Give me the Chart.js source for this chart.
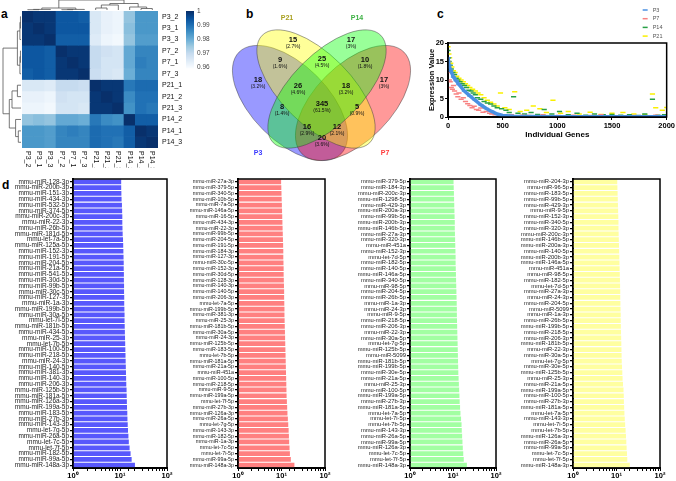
<!DOCTYPE html>
<html>
<head>
<meta charset="utf-8">
<script src="https://cdn.jsdelivr.net/npm/chart.js@4.4.0/dist/chart.umd.min.js"></script>
<style>
  body { margin: 0; background: #fff; width: 676px; height: 481px; position: relative; overflow: hidden; font-family: "Liberation Sans", Arial, sans-serif; }
  canvas { position: absolute; }
  .tag { position: absolute; font-weight: bold; font-size: 12px; line-height: 12px; }
</style>
</head>
<body>
<div class="tag" style="left:1px;top:8px">a</div>
<div class="tag" style="left:246px;top:8px">b</div>
<div class="tag" style="left:437px;top:8px">c</div>
<div class="tag" style="left:2px;top:179px">d</div>

<canvas id="heat" width="225" height="168" style="left:0;top:0"></canvas>
<canvas id="venn" width="215" height="172" style="left:225px;top:0"></canvas>
<canvas id="scat" width="251" height="140" style="left:425px;top:0"></canvas>
<canvas id="barBlue" width="179" height="309" style="left:0;top:172px"></canvas>
<canvas id="barRed" width="172" height="309" style="left:165px;top:172px"></canvas>
<canvas id="barGreen" width="171" height="309" style="left:337px;top:172px"></canvas>
<canvas id="barYellow" width="172" height="309" style="left:500px;top:172px"></canvas>

<script>
Chart.defaults.font.family = '"Liberation Sans", Arial, sans-serif';
Chart.defaults.color = '#000';

// ---- panel a: sample correlation heatmap
const hmLabels = ['P3_2', 'P3_1', 'P3_3', 'P7_2', 'P7_1', 'P7_3', 'P21_1', 'P21_2', 'P21_3', 'P14_2', 'P14_1', 'P14_3'];
const hmCorr = [
  [1.000, 0.999, 0.999, 0.994, 0.994, 0.993, 0.966, 0.963, 0.962, 0.976, 0.984, 0.984],
  [0.999, 1.000, 0.999, 0.994, 0.994, 0.994, 0.966, 0.963, 0.962, 0.977, 0.984, 0.984],
  [0.999, 0.999, 1.000, 0.993, 0.993, 0.993, 0.965, 0.962, 0.961, 0.976, 0.983, 0.983],
  [0.994, 0.994, 0.993, 1.000, 0.999, 0.999, 0.970, 0.968, 0.967, 0.981, 0.987, 0.987],
  [0.994, 0.994, 0.993, 0.999, 1.000, 0.999, 0.970, 0.967, 0.967, 0.981, 0.988, 0.987],
  [0.993, 0.994, 0.993, 0.999, 0.999, 1.000, 0.969, 0.967, 0.966, 0.980, 0.987, 0.987],
  [0.966, 0.966, 0.965, 0.970, 0.970, 0.969, 1.000, 0.999, 0.999, 0.989, 0.991, 0.991],
  [0.963, 0.963, 0.962, 0.968, 0.967, 0.967, 0.999, 1.000, 0.999, 0.986, 0.990, 0.990],
  [0.962, 0.962, 0.961, 0.967, 0.967, 0.966, 0.999, 0.999, 1.000, 0.985, 0.990, 0.989],
  [0.976, 0.977, 0.976, 0.981, 0.981, 0.980, 0.989, 0.986, 0.985, 1.000, 0.993, 0.993],
  [0.984, 0.984, 0.983, 0.987, 0.988, 0.987, 0.991, 0.990, 0.990, 0.993, 1.000, 0.999],
  [0.984, 0.984, 0.983, 0.987, 0.987, 0.987, 0.991, 0.990, 0.989, 0.993, 0.999, 1.000]
];
// [left node, right node, height]; merge k becomes node 12 + k
const hmMerges = [[0, 1, 0.03], [12, 2, 0.06], [3, 4, 0.03], [14, 5, 0.06], [13, 15, 0.2],
  [6, 7, 0.2], [17, 8, 0.5], [10, 11, 0.15], [9, 19, 0.3], [18, 20, 0.65], [16, 21, 1.0]];
const hmScaleTicks = [1, 0.99, 0.98, 0.97, 0.96];

// ---- panel b: Venn counts
const vennSets = ['P3', 'P7', 'P21', 'P14'];
const vennCounts = [15, 17, 18, 17, 25, 9, 10, 26, 18, 8, 5, 345, 16, 12, 20];
const vennPercents = ['2.7%', '3%', '3.2%', '3%', '4.5%', '1.6%', '1.8%', '4.6%', '3.2%', '1.4%', '0.9%', '61.5%', '2.9%', '2.1%', '3.6%'];

// ---- panel c: expression value per ranked gene
const p3X = [0, 10, 25, 50, 75, 100, 150, 200, 250, 300, 350, 400, 450, 500, 600, 800, 1000, 1200, 1400, 1600, 1800, 2000];
const p3Y = [16, 14, 12.5, 10.8, 9.8, 8.8, 7.0, 5.7, 4.5, 3.3, 2.3, 1.5, 0.8, 0.4, 0.2, 0.12, 0.1, 0.08, 0.07, 0.06, 0.05, 0.05];
const p7X = [0, 5, 12, 20, 30, 40, 50, 60, 75, 90, 100, 120, 140, 160, 180, 200, 220, 240, 260, 280, 300, 320, 350, 380, 400, 430, 460, 500, 540, 580, 620, 680, 740, 800, 870, 940, 1010, 1080, 1150, 1230, 1310, 1400, 1500, 1600, 1700, 1800, 1900, 2000];
const p7Y = [15, 12, 10, 9.5, 8, 7.5, 8.5, 7, 6.2, 5.5, 6.5, 4.8, 5.2, 4.2, 3.6, 3.1, 2.5, 2.9, 2, 1.8, 2.4, 1.3, 1.5, 1, 0.8, 0.6, 0.9, 0.5, 0.4, 0.6, 0.3, 0.5, 0.4, 0.3, 0.6, 0.3, 0.4, 0.2, 0.5, 0.3, 0.4, 0.6, 0.3, 0.2, 0.4, 0.3, 0.5, 0.3];
const p14X = [0, 5, 10, 20, 30, 45, 60, 75, 90, 110, 130, 150, 170, 190, 210, 230, 250, 270, 300, 330, 360, 390, 420, 450, 490, 530, 560, 600, 640, 700, 760, 820, 880, 950, 1020, 1100, 1180, 1260, 1340, 1420, 1500, 1580, 1660, 1740, 1800, 1870, 1920, 1980];
const p14Y = [18, 16, 15, 14, 13, 12, 11.5, 10.5, 10, 9.5, 9, 8.5, 8, 7.2, 7, 6.5, 6, 5.2, 4.8, 4.2, 3.8, 3.5, 3, 2.5, 2.2, 1.8, 1.2, 5.5, 1, 0.8, 1.2, 0.7, 2, 0.8, 1.5, 0.6, 1, 0.5, 0.8, 0.6, 0.7, 0.5, 0.6, 0.4, 0.8, 4.8, 0.5, 0.6];
const p21X = [0, 8, 15, 25, 35, 50, 65, 80, 100, 120, 140, 160, 180, 200, 225, 250, 275, 300, 330, 360, 390, 420, 450, 480, 520, 560, 610, 660, 720, 780, 840, 900, 960, 1030, 1100, 1200, 1300, 1400, 1500, 1600, 1700, 1800, 1870, 1900, 1960, 2000];
const p21Y = [19, 17, 16, 14.5, 13.5, 12.5, 12, 11, 10.5, 10, 9.5, 9, 8.5, 8, 7.5, 7, 6.5, 6, 5.2, 4.5, 4, 3.5, 3, 6.5, 2.5, 2, 6.8, 1.5, 1.8, 3, 2.2, 1.2, 4.5, 1, 1.5, 0.8, 1.3, 0.7, 1, 1.2, 0.8, 0.6, 6.2, 2.5, 1.8, 2.6];

// ---- panel d: top miRNAs per stage
const p3Labels = ['mmu-miR-128-3p', 'mmu-miR-200b-3p', 'mmu-miR-151-3p', 'mmu-miR-434-3p', 'mmu-miR-532-5p', 'mmu-miR-374-5p', 'mmu-miR-200c-3p', 'mmu-miR-22-3p', 'mmu-miR-26b-5p', 'mmu-miR-181d-5p',
  'mmu-let-7a-5p', 'mmu-miR-125a-5p', 'mmu-miR-152-3p', 'mmu-miR-191-5p', 'mmu-miR-204-5p', 'mmu-miR-21a-5p', 'mmu-miR-541-5p', 'mmu-miR-30d-5p', 'mmu-miR-99b-5p', 'mmu-miR-30c-5p',
  'mmu-miR-127-3p', 'mmu-miR-1a-3p', 'mmu-miR-199b-5p', 'mmu-miR-30a-5p', 'mmu-let-7i-5p', 'mmu-miR-181b-5p', 'mmu-miR-434-5p', 'mmu-miR-25-3p', 'mmu-let-7b-5p', 'mmu-miR-100-5p',
  'mmu-miR-218-5p', 'mmu-miR-24-3p', 'mmu-miR-140-5p', 'mmu-miR-381-3p', 'mmu-miR-140-3p', 'mmu-miR-206-3p', 'mmu-miR-125b-5p', 'mmu-miR-181a-5p', 'mmu-miR-126a-3p', 'mmu-miR-199a-5p',
  'mmu-miR-183-5p', 'mmu-miR-27b-3p', 'mmu-miR-143-3p', 'mmu-let-7g-5p', 'mmu-miR-26a-5p', 'mmu-let-7c-5p', 'mmu-let-7f-5p', 'mmu-miR-182-5p', 'mmu-miR-99a-5p', 'mmu-miR-148a-3p'];
const p3Values = [10.6, 10.6, 10.7, 10.8, 11.0, 11.1, 11.2, 11.2, 11.3, 11.4,
  11.6, 11.7, 11.8, 11.9, 12.0, 12.0, 12.1, 12.1, 12.2, 12.2,
  12.3, 12.3, 12.4, 12.5, 12.5, 12.6, 12.7, 12.8, 12.9, 13.0,
  13.1, 13.2, 13.3, 13.4, 13.5, 13.6, 13.8, 13.9, 14.0, 14.1,
  14.3, 14.4, 14.6, 14.8, 15.1, 15.4, 16.0, 16.8, 17.7, 20.8];
const p7Labels = ['mmu-miR-27a-3p', 'mmu-miR-379-5p', 'mmu-miR-340-5p', 'mmu-miR-10b-5p', 'mmu-miR-7a-5p', 'mmu-miR-146a-5p', 'mmu-miR-16-5p', 'mmu-miR-434-3p', 'mmu-miR-22-3p', 'mmu-miR-99b-5p',
  'mmu-miR-204-5p', 'mmu-miR-191-5p', 'mmu-miR-184-3p', 'mmu-miR-127-3p', 'mmu-miR-30c-5p', 'mmu-miR-152-3p', 'mmu-miR-30d-5p', 'mmu-miR-128-3p', 'mmu-miR-140-3p', 'mmu-miR-140-5p',
  'mmu-miR-206-3p', 'mmu-let-7a-5p', 'mmu-miR-199b-5p', 'mmu-miR-381-3p', 'mmu-miR-25-3p', 'mmu-miR-181b-5p', 'mmu-miR-30a-5p', 'mmu-miR-24-3p', 'mmu-miR-125b-5p', 'mmu-miR-183-5p',
  'mmu-let-7b-5p', 'mmu-miR-181a-5p', 'mmu-miR-21a-5p', 'mmu-miR-451a', 'mmu-miR-100-5p', 'mmu-miR-218-5p', 'mmu-miR-9-5p', 'mmu-miR-199a-5p', 'mmu-let-7f-5p', 'mmu-miR-27b-3p',
  'mmu-miR-126a-3p', 'mmu-miR-26a-5p', 'mmu-let-7g-5p', 'mmu-miR-143-3p', 'mmu-miR-182-5p', 'mmu-miR-1a-3p', 'mmu-let-7c-5p', 'mmu-let-7i-5p', 'mmu-miR-99a-5p', 'mmu-miR-148a-3p'];
const p7Values = [9.8, 9.9, 10.0, 10.1, 10.2, 10.3, 10.4, 10.5, 10.6, 10.7,
  10.8, 10.9, 11.0, 11.0, 11.1, 11.2, 11.2, 11.3, 11.4, 11.5,
  11.5, 11.6, 11.7, 11.7, 11.8, 11.9, 12.0, 12.1, 12.2, 12.3,
  12.4, 12.5, 12.6, 12.7, 12.8, 12.9, 13.0, 13.1, 13.3, 13.5,
  13.7, 14.0, 14.3, 14.6, 14.8, 15.0, 15.3, 15.6, 16.4, 19.8];
const p14Labels = ['mmu-miR-379-5p', 'mmu-miR-184-3p', 'mmu-miR-200c-3p', 'mmu-miR-1298-5p', 'mmu-miR-429-3p', 'mmu-miR-200a-3p', 'mmu-miR-99b-5p', 'mmu-miR-200b-3p', 'mmu-miR-146b-5p', 'mmu-miR-27a-3p',
  'mmu-miR-320-3p', 'mmu-miR-451a', 'mmu-miR-152-3p', 'mmu-let-7d-5p', 'mmu-miR-182-5p', 'mmu-miR-140-5p', 'mmu-miR-146a-5p', 'mmu-miR-340-5p', 'mmu-miR-98-5p', 'mmu-miR-204-5p',
  'mmu-miR-26b-5p', 'mmu-miR-1a-3p', 'mmu-miR-24-3p', 'mmu-miR-9-5p', 'mmu-miR-218-5p', 'mmu-miR-206-3p', 'mmu-miR-22-3p', 'mmu-miR-30a-5p', 'mmu-let-7g-5p', 'mmu-miR-125b-5p',
  'mmu-miR-5099', 'mmu-miR-181b-5p', 'mmu-miR-199b-5p', 'mmu-miR-30e-5p', 'mmu-miR-21a-5p', 'mmu-miR-25-3p', 'mmu-miR-100-5p', 'mmu-miR-199a-5p', 'mmu-miR-27b-3p', 'mmu-miR-181a-5p',
  'mmu-let-7a-5p', 'mmu-let-7i-5p', 'mmu-let-7b-5p', 'mmu-miR-143-3p', 'mmu-miR-26a-5p', 'mmu-miR-99a-5p', 'mmu-miR-126a-3p', 'mmu-let-7c-5p', 'mmu-let-7f-5p', 'mmu-miR-148a-3p'];
const p14Values = [10.3, 10.4, 10.5, 10.6, 10.7, 10.8, 10.9, 11.0, 11.0, 11.1,
  11.2, 11.3, 11.4, 11.5, 11.5, 11.6, 11.7, 11.8, 11.9, 12.0,
  12.1, 12.2, 12.3, 12.3, 12.4, 12.5, 12.6, 12.7, 12.8, 12.9,
  13.0, 13.1, 13.2, 13.3, 13.5, 13.7, 13.9, 14.1, 14.3, 14.6,
  14.9, 15.4, 15.8, 16.0, 16.3, 16.6, 16.9, 17.3, 17.8, 21.0];
const p21Labels = ['mmu-miR-204-3p', 'mmu-miR-96-5p', 'mmu-miR-183-5p', 'mmu-miR-99b-5p', 'mmu-miR-429-3p', 'mmu-miR-9-5p', 'mmu-miR-152-3p', 'mmu-miR-340-5p', 'mmu-miR-320-3p', 'mmu-miR-200c-3p',
  'mmu-miR-146b-5p', 'mmu-miR-200a-3p', 'mmu-miR-140-5p', 'mmu-miR-200b-3p', 'mmu-miR-146a-5p', 'mmu-miR-451a', 'mmu-miR-98-5p', 'mmu-miR-182-5p', 'mmu-let-7d-5p', 'mmu-miR-27a-3p',
  'mmu-miR-24-3p', 'mmu-miR-204-5p', 'mmu-miR-5099', 'mmu-miR-1a-3p', 'mmu-miR-26b-5p', 'mmu-miR-199b-5p', 'mmu-miR-218-5p', 'mmu-miR-206-3p', 'mmu-miR-181b-5p', 'mmu-miR-22-3p',
  'mmu-miR-30a-5p', 'mmu-let-7g-5p', 'mmu-miR-30e-5p', 'mmu-miR-125b-5p', 'mmu-miR-25-3p', 'mmu-miR-21a-5p', 'mmu-miR-199a-5p', 'mmu-miR-100-5p', 'mmu-miR-27b-3p', 'mmu-miR-181a-5p',
  'mmu-let-7a-5p', 'mmu-miR-143-3p', 'mmu-let-7i-5p', 'mmu-let-7b-5p', 'mmu-miR-126a-3p', 'mmu-miR-26a-5p', 'mmu-miR-99a-5p', 'mmu-let-7c-5p', 'mmu-let-7f-5p', 'mmu-miR-148a-3p'];
const p21Values = [10.4, 10.5, 10.6, 10.7, 10.8, 10.9, 11.0, 11.1, 11.1, 11.2,
  11.3, 11.4, 11.5, 11.6, 11.7, 11.8, 11.9, 12.0, 12.1, 12.2,
  12.2, 12.3, 12.4, 12.5, 12.5, 12.6, 12.7, 12.8, 12.9, 13.0,
  13.1, 13.2, 13.4, 13.6, 13.8, 14.1, 14.5, 14.7, 14.8, 15.0,
  15.2, 15.5, 15.8, 16.2, 16.5, 16.8, 17.1, 17.4, 17.7, 20.2];

// ---------- helpers
const blues = ['#f7fbff', '#deebf7', '#c6dbef', '#9ecae1', '#6baed6', '#4292c6', '#2171b5', '#08519c', '#08306b'];
const hexRgb = h => [1, 3, 5].map(i => parseInt(h.slice(i, i + 2), 16));
function blueScale(v) {
  const t = Math.max(0, Math.min(1, (v - 0.96) / 0.04));
  const p = t * (blues.length - 1);
  const i = Math.min(Math.floor(p), blues.length - 2), f = p - i;
  const a = hexRgb(blues[i]), b = hexRgb(blues[i + 1]);
  return 'rgb(' + a.map((c, k) => Math.round(c + (b[k] - c) * f)).join(',') + ')';
}

// box round the plot area
const frame = {
  id: 'frame',
  afterDraw(chart) {
    const { ctx, chartArea: a } = chart;
    ctx.save();
    ctx.strokeStyle = '#000';
    ctx.lineWidth = 1.5;
    ctx.strokeRect(a.left, a.top, a.right - a.left, a.bottom - a.top);
    ctx.restore();
  }
};

// ---------- panel a
const heatDecor = {
  id: 'heatDecor',
  afterDraw(chart) {
    const { ctx, chartArea: a, scales: { x, y } } = chart;
    ctx.save();
    // dendrograms (top and left)
    const pos = hmLabels.map((_, i) => i), hgt = hmLabels.map(() => 0);
    hmMerges.forEach(([l, r, h]) => { pos.push((pos[l] + pos[r]) / 2); hgt.push(h); });
    const topY = h => a.top - 1 - h * (a.top - 1);
    const leftX = h => a.left - 1 - h * (a.left - 4);
    ctx.strokeStyle = '#555';
    ctx.lineWidth = 0.8;
    hmMerges.forEach(([l, r, h]) => {
      const xl = x.getPixelForValue(pos[l]), xr = x.getPixelForValue(pos[r]);
      ctx.beginPath();
      ctx.moveTo(xl, topY(hgt[l])); ctx.lineTo(xl, topY(h));
      ctx.lineTo(xr, topY(h)); ctx.lineTo(xr, topY(hgt[r]));
      ctx.stroke();
      const yl = y.getPixelForValue(pos[l] + 0.5), yr = y.getPixelForValue(pos[r] + 0.5);
      ctx.beginPath();
      ctx.moveTo(leftX(hgt[l]), yl); ctx.lineTo(leftX(h), yl);
      ctx.lineTo(leftX(h), yr); ctx.lineTo(leftX(hgt[r]), yr);
      ctx.stroke();
    });
    // row and column names
    ctx.fillStyle = '#111';
    ctx.font = '7px "Liberation Sans"';
    ctx.textAlign = 'left';
    ctx.textBaseline = 'middle';
    hmLabels.forEach((lab, i) => ctx.fillText(lab, a.right + 4, y.getPixelForValue(i + 0.5)));
    hmLabels.forEach((lab, i) => {
      ctx.save();
      ctx.translate(x.getPixelForValue(i), a.bottom + 3);
      ctx.rotate(Math.PI / 2);
      ctx.fillText(lab, 0, 0);
      ctx.restore();
    });
    // colour key
    const cbX = a.right + 28, cbW = 8, cbTop = a.top, cbH = 56;
    for (let k = 0; k <= cbH; k++) {
      ctx.fillStyle = blueScale(1 - 0.04 * k / cbH);
      ctx.fillRect(cbX, cbTop + k, cbW, 1.3);
    }
    ctx.fillStyle = '#444';
    ctx.font = '6.5px "Liberation Sans"';
    hmScaleTicks.forEach(v => ctx.fillText(String(v), cbX + cbW + 3, cbTop + (1 - v) / 0.04 * cbH));
    ctx.restore();
  }
};

new Chart(document.getElementById('heat'), {
  type: 'bar',
  data: {
    labels: hmLabels,
    datasets: hmLabels.map((row, i) => ({
      label: row,
      data: hmLabels.map(() => 1),
      backgroundColor: hmCorr[i].map(blueScale),
      borderWidth: 0,
      barPercentage: 1,
      categoryPercentage: 1
    }))
  },
  options: {
    responsive: false,
    animation: false,
    layout: { padding: { left: 22, top: 11, right: 67, bottom: 20 } },
    plugins: { legend: { display: false }, tooltip: { enabled: false } },
    scales: {
      x: { display: false, stacked: true },
      y: { display: false, stacked: true, min: 0, max: 12, reverse: true }
    }
  },
  plugins: [heatDecor]
});

// ---------- panel b
const vennShapes = [
  { cx: 65, cy: 103, rx: 72, ry: 38, rot: 45, fill: 'rgba(0,0,255,0.4)' },
  { cx: 128, cy: 103, rx: 72, ry: 38, rot: -45, fill: 'rgba(255,0,0,0.4)' },
  { cx: 91, cy: 89, rx: 76, ry: 35, rot: 45, fill: 'rgba(255,255,0,0.4)' },
  { cx: 102, cy: 89, rx: 76, ry: 35, rot: -45, fill: 'rgba(0,255,0,0.4)' }
];
const vennNamePos = [[33, 153, '#3a3aff'], [160, 153, '#ff3a3a'], [62, 18, '#a8a020'], [132, 18, '#3cb043']];
const vennRegionPos = [[68, 43], [126, 43], [33, 83], [159, 83], [97, 62], [55, 63], [140, 63], [73, 89],
  [121, 89], [57, 110], [132, 110], [97, 107], [82, 130], [112, 130], [97, 141]];

const vennDraw = {
  id: 'vennDraw',
  afterDraw(chart) {
    const { ctx, scales: { x, y } } = chart;
    ctx.save();
    vennShapes.forEach(e => {
      const cx = x.getPixelForValue(e.cx), cy = y.getPixelForValue(e.cy);
      const rx = x.getPixelForValue(e.cx + e.rx) - cx, ry = y.getPixelForValue(e.cy + e.ry) - cy;
      ctx.beginPath();
      ctx.ellipse(cx, cy, rx, ry, e.rot * Math.PI / 180, 0, 2 * Math.PI);
      ctx.fillStyle = e.fill;
      ctx.fill();
      ctx.strokeStyle = 'rgba(60,60,60,0.8)';
      ctx.lineWidth = 0.6;
      ctx.stroke();
    });
    ctx.textAlign = 'center';
    ctx.textBaseline = 'middle';
    vennSets.forEach((name, i) => {
      const [px, py, col] = vennNamePos[i];
      ctx.fillStyle = col;
      ctx.font = 'bold 7px "Liberation Sans"';
      ctx.fillText(name, x.getPixelForValue(px), y.getPixelForValue(py));
    });
    ctx.fillStyle = '#111';
    vennCounts.forEach((n, i) => {
      const px = x.getPixelForValue(vennRegionPos[i][0]), py = y.getPixelForValue(vennRegionPos[i][1]);
      ctx.font = 'bold 7.5px "Liberation Sans"';
      ctx.fillText(String(n), px, py - 3);
      ctx.font = '5px "Liberation Sans"';
      ctx.fillText('(' + vennPercents[i] + ')', px, py + 3.5);
    });
    ctx.restore();
  }
};

new Chart(document.getElementById('venn'), {
  type: 'scatter',
  data: { datasets: [] },
  options: {
    responsive: false,
    animation: false,
    layout: { padding: 0 },
    plugins: { legend: { display: false }, tooltip: { enabled: false } },
    scales: {
      x: { type: 'linear', display: false, min: 0, max: 215 },
      y: { type: 'linear', display: false, min: 0, max: 172, reverse: true }
    }
  },
  plugins: [vennDraw]
});

// ---------- panel c
const scatLegend = {
  id: 'scatLegend',
  afterDraw(chart) {
    const { ctx, chartArea: a } = chart;
    ctx.save();
    ctx.font = '5.5px "Liberation Sans"';
    ctx.textBaseline = 'middle';
    chart.data.datasets.forEach((d, i) => {
      const yy = 10 + i * 8.7;
      ctx.strokeStyle = d.borderColor;
      ctx.lineWidth = 1.5;
      ctx.beginPath();
      ctx.moveTo(a.right - 24, yy);
      ctx.lineTo(a.right - 19, yy);
      ctx.stroke();
      ctx.fillStyle = '#555';
      ctx.fillText(d.label, a.right - 14, yy);
    });
    ctx.restore();
  }
};

const series = (label, xs, ys, color, line) => ({
  label,
  data: xs.map((v, i) => ({ x: v, y: ys[i] })),
  borderColor: color,
  backgroundColor: color,
  pointStyle: 'line',
  pointRadius: 2.6,
  pointBorderWidth: 1.5,
  showLine: line,
  borderWidth: line ? 3.5 : 0
});

new Chart(document.getElementById('scat'), {
  type: 'scatter',
  data: {
    datasets: [
      series('P3', p3X, p3Y, 'rgb(74,144,226)', true),
      series('P7', p7X, p7Y, 'rgb(248,130,130)', false),
      series('P14', p14X, p14Y, 'rgb(40,160,70)', false),
      series('P21', p21X, p21Y, 'rgb(250,240,0)', false)
    ]
  },
  options: {
    responsive: false,
    animation: false,
    layout: { padding: { top: 43, right: 8, left: 2, bottom: 0 } },
    plugins: { legend: { display: false }, tooltip: { enabled: false } },
    scales: {
      x: {
        type: 'linear', min: 0, max: 2000,
        ticks: { stepSize: 500, maxRotation: 0, padding: 1, font: { size: 7.5, weight: 'bold' }, callback: v => String(v) },
        grid: { drawOnChartArea: false, tickLength: 3, color: '#000' },
        border: { color: '#000', width: 2 },
        title: { display: true, text: 'Individual Genes', padding: 0, font: { size: 8, weight: 'bold' } },
        afterFit: s => { s.height = 23; }
      },
      y: {
        min: 0, max: 20,
        ticks: { stepSize: 5, padding: 1, font: { size: 7.5, weight: 'bold' } },
        grid: { drawOnChartArea: false, tickLength: 3, color: '#000' },
        border: { color: '#000', width: 2 },
        title: { display: true, text: 'Expression Value', padding: 0, font: { size: 7.5, weight: 'bold' } },
        afterFit: s => { s.width = 21; }
      }
    }
  },
  plugins: [frame, scatLegend]
});

// ---------- panel d
const sup = ['\u2070', '\u00b9', '\u00b2'];
function barChart(id, labels, values, color, labelSize) {
  new Chart(document.getElementById(id), {
    type: 'bar',
    data: {
      labels,
      datasets: [{ data: values, backgroundColor: color, borderWidth: 0, barPercentage: 0.82, categoryPercentage: 1 }]
    },
    options: {
      indexAxis: 'y',
      responsive: false,
      animation: false,
      layout: { padding: { top: 7, right: 12, left: 0, bottom: 0 } },
      plugins: { legend: { display: false }, tooltip: { enabled: false } },
      scales: {
        x: {
          type: 'logarithmic', min: 1, max: 100,
          grid: { drawOnChartArea: false, tickLength: 3, color: '#000', lineWidth: 1 },
          border: { color: '#000', width: 2 },
          ticks: {
            autoSkip: false, maxRotation: 0, padding: 0,
            font: { size: 7.5, weight: 'bold' },
            callback: v => {
              const l = Math.log10(v);
              return Math.abs(l - Math.round(l)) < 1e-9 ? '10' + sup[Math.round(l)] : '';
            }
          },
          afterFit: s => { s.height = 13; }
        },
        y: {
          grid: { drawOnChartArea: false, offset: false, tickLength: 3, color: '#000', lineWidth: 1.2 },
          border: { color: '#000', width: 2 },
          ticks: { autoSkip: false, padding: 1, color: '#222', font: { size: labelSize } },
          afterFit: s => { s.width = 73; }
        }
      }
    },
    plugins: [frame]
  });
}

barChart('barBlue', p3Labels, p3Values, 'rgb(88,88,252)', 6.5);
barChart('barRed', p7Labels, p7Values, 'rgb(255,128,128)', 5.3);
barChart('barGreen', p14Labels, p14Values, 'rgb(162,255,162)', 5.8);
barChart('barYellow', p21Labels, p21Values, 'rgb(255,255,160)', 5.8);
</script>
</body>
</html>
